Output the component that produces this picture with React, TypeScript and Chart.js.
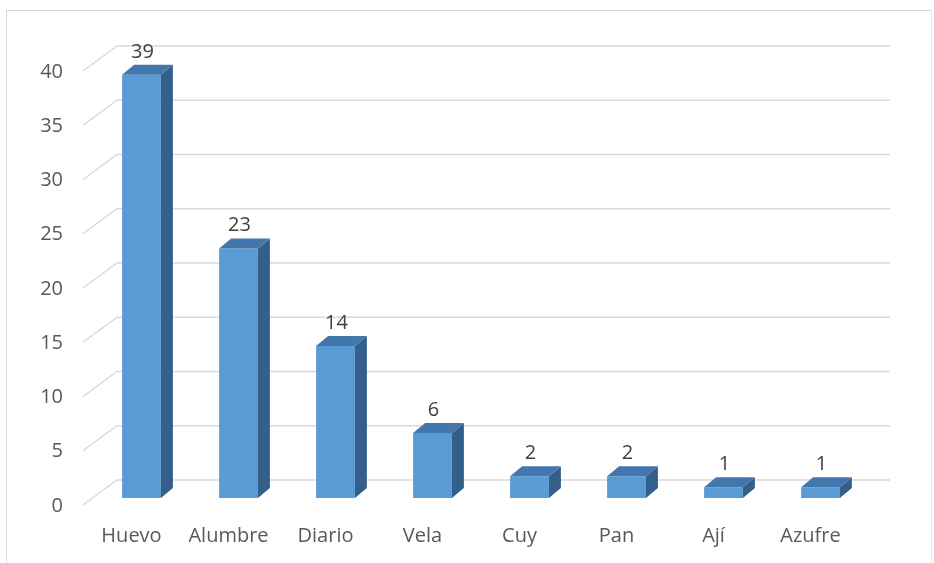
import React, { useEffect, useRef } from "react";
import { Chart, registerables } from "chart.js";

Chart.register(...registerables);

const categories = ["Huevo", "Alumbre", "Diario", "Vela", "Cuy", "Pan", "Ají", "Azufre"];
const counts = [39, 23, 14, 6, 2, 2, 1, 1];
const yTicks = [0, 5, 10, 15, 20, 25, 30, 35, 40];

const FRONT = "#5B9BD5";
const TOP = "#4277AD";
const SIDE = "#345F8A";
const GRID = "#D9D9D9";
const FONT = "'Open Sans', 'DejaVu Sans', sans-serif";

// depth of each column (side / top faces)
const BAR_DX = 12;
const BAR_DY = -10;

const backGridPlugin = {
  id: "backGrid",
  beforeDatasetsDraw(chart: any) {
    const { ctx, chartArea, scales } = chart;
    const y = scales.y;
    ctx.save();
    ctx.strokeStyle = GRID;
    ctx.lineWidth = 1.5;
    for (const v of yTicks) {
      const py = y.getPixelForValue(v);
      ctx.beginPath();
      ctx.moveTo(chartArea.left - 10, py + 7);
      ctx.lineTo(chartArea.left + 24, py - 18);
      ctx.lineTo(chartArea.right + 21, py - 18);
      ctx.stroke();
    }
    ctx.restore();
  },
};

const columnPlugin = {
  id: "column3d",
  afterDatasetsDraw(chart: any) {
    const { ctx } = chart;
    const meta = chart.getDatasetMeta(0);
    ctx.save();
    meta.data.forEach((bar: any, i: number) => {
      const { x, y, base, width } = bar.getProps(["x", "y", "base", "width"], true);
      const l = x - width / 2;
      const r = x + width / 2;
      // side face
      ctx.fillStyle = SIDE;
      ctx.beginPath();
      ctx.moveTo(r, y);
      ctx.lineTo(r + BAR_DX, y + BAR_DY);
      ctx.lineTo(r + BAR_DX, base + BAR_DY);
      ctx.lineTo(r, base);
      ctx.closePath();
      ctx.fill();
      // top face
      ctx.fillStyle = TOP;
      ctx.beginPath();
      ctx.moveTo(l, y);
      ctx.lineTo(l + BAR_DX, y + BAR_DY);
      ctx.lineTo(r + BAR_DX, y + BAR_DY);
      ctx.lineTo(r, y);
      ctx.closePath();
      ctx.fill();
      // value label
      ctx.fillStyle = "#404040";
      ctx.font = `20px ${FONT}`;
      ctx.textAlign = "center";
      ctx.textBaseline = "middle";
      ctx.fillText(String(counts[i]), x + 1, y - 23);
    });
    ctx.restore();
  },
};

export default function App() {
  const canvasRef = useRef<HTMLCanvasElement | null>(null);

  useEffect(() => {
    if (!canvasRef.current) return;
    const chart = new Chart(canvasRef.current, {
      type: "bar",
      data: {
        labels: categories,
        datasets: [
          {
            data: counts,
            backgroundColor: FRONT,
            borderWidth: 0,
            categoryPercentage: 1,
            barPercentage: 0.4,
          },
        ],
      },
      options: {
        responsive: false,
        animation: false,
        layout: { padding: { left: 0, right: 65, top: 64, bottom: 0 } },
        plugins: { legend: { display: false }, tooltip: { enabled: false } },
        scales: {
          x: {
            grid: { display: false, drawTicks: false },
            border: { display: false },
            ticks: {
              color: "#595959",
              font: { family: FONT, size: 20 },
              padding: 26,
              labelOffset: -10,
              maxRotation: 0,
              autoSkip: false,
            },
            afterFit(scale: any) {
              scale.height = 65;
            },
          },
          y: {
            min: 0,
            max: 40,
            grid: { display: false, drawTicks: false },
            border: { display: false },
            ticks: {
              stepSize: 5,
              color: "#595959",
              font: { family: FONT, size: 20 },
              padding: 30,
              labelOffset: 8,
            },
            afterFit(scale: any) {
              scale.width = 93;
            },
          },
        },
      },
      plugins: [backGridPlugin, columnPlugin],
    });
    return () => chart.destroy();
  }, []);

  return (
    <div style={{ position: "absolute", left: 0, top: 0, width: 934, height: 563, background: "#fff", overflow: "hidden" }}>
      <div
        style={{
          position: "absolute",
          left: 6,
          top: 10,
          width: 924,
          height: 560,
          borderTop: "1.5px solid #D9D9D9",
          borderLeft: "1.5px solid #D9D9D9",
          borderRight: "1.5px solid #E8E8E8",
        }}
      />
      <canvas ref={canvasRef} width={934} height={563} style={{ position: "absolute", left: 0, top: 0 }} />
    </div>
  );
}
